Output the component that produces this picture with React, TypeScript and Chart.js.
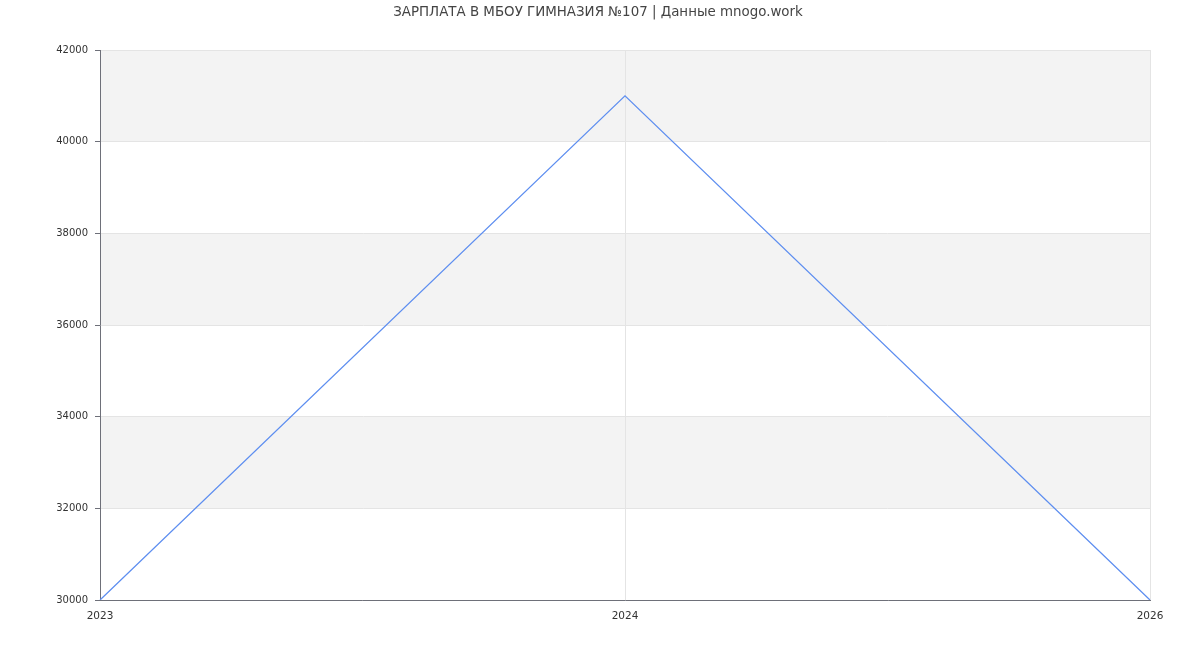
import React, { useEffect, useRef } from "react";
import { Chart, registerables } from "chart.js";

Chart.register(...registerables);

const TITLE = "ЗАРПЛАТА В МБОУ ГИМНАЗИЯ №107 | Данные mnogo.work";
const categories = ["2023", "2024", "2026"];
const salaries = [30000, 41000, 30000];
const yMin = 30000;
const yMax = 42000;
const yStep = 2000;
const bandColors = ["#ffffff", "#f3f3f3"];

const FONT = "'DejaVu Sans', sans-serif";

const bandPlugin = {
  id: "bands",
  beforeDraw(chart: any) {
    const { ctx, chartArea, scales } = chart;
    const y = scales.y;
    const ticks = y.ticks;
    ctx.save();
    for (let i = 0; i < ticks.length - 1; i++) {
      const top = y.getPixelForValue(ticks[i + 1].value);
      const bottom = y.getPixelForValue(ticks[i].value);
      ctx.fillStyle = bandColors[i % bandColors.length];
      ctx.fillRect(chartArea.left, top, chartArea.right - chartArea.left, bottom - top);
    }
    ctx.restore();
  },
};

const titlePlugin = {
  id: "centerTitle",
  afterDraw(chart: any) {
    const { ctx, width } = chart;
    ctx.save();
    ctx.font = `13.4px ${FONT}`;
    ctx.fillStyle = "#444";
    ctx.textAlign = "center";
    ctx.textBaseline = "middle";
    ctx.fillText(TITLE, width / 2 - 2, 13);
    ctx.restore();
  },
};

export default function App() {
  const ref = useRef<HTMLCanvasElement | null>(null);
  useEffect(() => {
    if (!ref.current) return;
    const chart = new Chart(ref.current, {
      type: "line",
      data: {
        labels: categories,
        datasets: [
          {
            data: salaries,
            borderColor: "#5f8ff0",
            borderWidth: 1.3,
            pointRadius: 0,
            tension: 0,
            fill: false,
          },
        ],
      },
      options: {
        animation: false,
        responsive: false,
        layout: { padding: { left: 0, right: 50, top: 50, bottom: 0 } },
        plugins: {
          legend: { display: false },
          tooltip: { enabled: false },
          title: { display: false },
        },
        scales: {
          x: {
            type: "category",
            offset: false,
            afterFit: (s: any) => {
              s.height = 50;
            },
            grid: { color: "#e4e4e4", drawTicks: false, lineWidth: 1 },
            border: { color: "#6e7079", width: 1 },
            ticks: {
              color: "#333",
              font: { family: FONT, size: 10.5 },
              padding: 10,
              maxRotation: 0,
              autoSkip: false,
            },
          },
          y: {
            min: yMin,
            max: yMax,
            afterFit: (s: any) => {
              s.width = 100;
            },
            grid: { color: "#e4e4e4", tickColor: "#6e7079", tickLength: 5, lineWidth: 1 },
            border: { color: "#6e7079", width: 1 },
            ticks: {
              stepSize: yStep,
              color: "#333",
              font: { family: FONT, size: 10 },
              padding: 7,
              callback: (v: any) => String(v),
            },
          },
        },
      },
      plugins: [bandPlugin, titlePlugin],
    });
    return () => chart.destroy();
  }, []);
  return (
    <div style={{ position: "absolute", left: 0, top: 0, width: 1200, height: 650, background: "#fff" }}>
      <canvas ref={ref} width={1200} height={650} />
    </div>
  );
}
